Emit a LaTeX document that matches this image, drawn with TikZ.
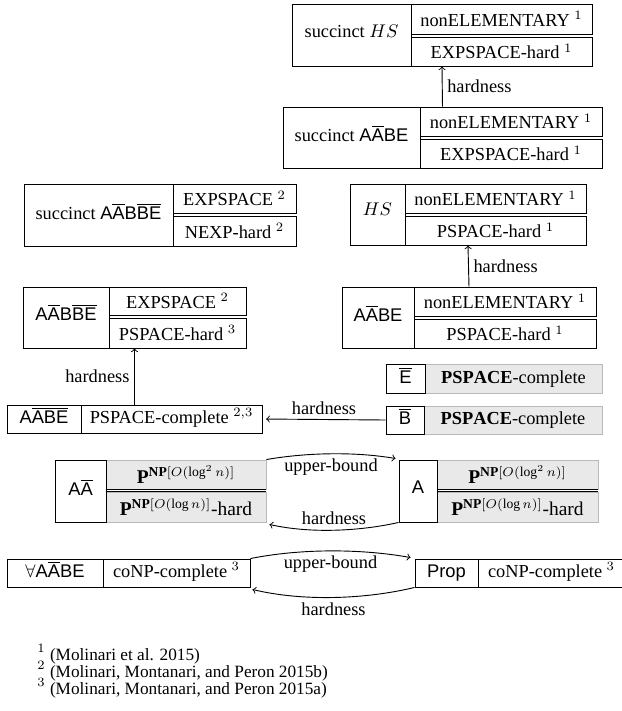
\documentclass[tikz,border=0pt]{standalone}
\usepackage{fontspec}
\setmainfont{Liberation Serif}
\setsansfont{Liberation Sans}
\usetikzlibrary{calc}
\newcommand\ol[1]{\ensuremath{\overline{\mbox{#1}}}}
\newcommand\cellbox[7]{\node[#6, minimum width={(#4-(#2))*0.545pt}, minimum height={(#5-(#3))*0.545pt}] (#1) at ({(#2+#4)/2},{(#3+#5)/2}) {#7};}
\begin{document}
\begin{tikzpicture}[x=0.545pt, y=-0.545pt, line width=0.5pt,
  cell/.style={draw, inner sep=0pt, font=\fontsize{10}{12}\selectfont},
  onerow/.style={cell, text height=7pt, text depth=2pt},
  gcell/.style={cell, draw=gray!55, fill=gray!17},
  grayrow/.style={gcell, text height=7pt, text depth=2pt},
  mcell/.style={gcell, font=\fontsize{10.6}{12}\selectfont},
  lab/.style={inner sep=2.5pt, font=\fontsize{10}{12}\selectfont},
  nmtext/.style={inner sep=0pt, font=\fontsize{10}{12}\selectfont},
  foot/.style={anchor=base west, inner sep=0pt, font=\fontsize{9.4}{11}\selectfont}]
\useasboundingbox (0,0) rectangle (622,711);

% succinct HS
\cellbox{s1n}{292}{4}{411}{66}{cell}{}
\cellbox{s1t}{411}{4}{592}{34}{cell}{nonELEMENTARY $^1$}
\cellbox{s1b}{411}{37}{592}{66}{cell}{EXPSPACE-hard $^1$}
\node[nmtext] (s1l) at ($(s1n.center)+(0,-4)$) {succinct $HS$};

% succinct AAbarBE
\cellbox{s2n}{283}{107}{420}{168}{cell}{}
\cellbox{s2t}{420}{107}{602}{136}{cell}{nonELEMENTARY $^1$}
\cellbox{s2b}{420}{139}{602}{168}{cell}{EXPSPACE-hard $^1$}
\node[nmtext] (s2l) at ($(s2n.center)+(0,-4)$) {succinct \textsf{A\ol{A}BE}};

% succinct AAbarBBbarEbar
\cellbox{s3n}{24}{184}{173}{246}{cell}{}
\cellbox{s3t}{173}{184}{296}{213}{cell}{EXPSPACE $^2$}
\cellbox{s3b}{173}{216}{296}{246}{cell}{NEXP-hard $^2$}
\node[nmtext] (s3l) at ($(s3n.center)+(0,-4)$) {succinct \textsf{A\ol{A}B\ol{B}\ol{E}}};

% HS
\cellbox{hsn}{350}{184}{405}{245}{cell}{}
\cellbox{hst}{405}{184}{586}{213}{cell}{nonELEMENTARY $^1$}
\cellbox{hsb}{405}{216}{586}{245}{cell}{PSPACE-hard $^1$}
\node[nmtext] (hsl) at ($(hsn.center)+(0,-5)$) {$HS$};

% AAbarBE
\cellbox{abn}{342}{287}{414}{348}{cell}{}
\cellbox{abt}{414}{287}{596}{316}{cell}{nonELEMENTARY $^1$}
\cellbox{abb}{414}{319}{596}{348}{cell}{PSPACE-hard $^1$}
\node[nmtext] (abl) at ($(abn.center)+(0,-4)$) {\textsf{A\ol{A}BE}};

% AAbarBBbarEbar
\cellbox{bbn}{23}{287}{109}{348}{cell}{}
\cellbox{bbt}{109}{287}{246}{315}{cell}{EXPSPACE $^2$}
\cellbox{bbb}{109}{318}{246}{348}{cell}{PSPACE-hard $^3$}
\node[nmtext] (bbl) at ($(bbn.center)+(0,-5)$) {\textsf{A\ol{A}B\ol{B}\ol{E}}};

% AAbarBbarEbar PSPACE-complete
\cellbox{pcn}{7}{405}{81}{433}{onerow}{\textsf{A\ol{A}\ol{B}\ol{E}}}
\cellbox{pcr}{81}{405}{262}{433}{onerow}{PSPACE-complete $^{2,3}$}

% Ebar, Bbar
\cellbox{er}{425}{364}{602}{393}{grayrow}{$\mathbf{PSPACE}$-complete}
\cellbox{en}{386}{364}{425}{393}{onerow}{\textsf{\ol{E}}}
\cellbox{br}{424}{406}{602}{434}{grayrow}{$\mathbf{PSPACE}$-complete}
\cellbox{bn}{386}{406}{424}{434}{onerow}{\textsf{\ol{B}}}

% AAbar
\cellbox{aat}{106}{460}{266}{489}{mcell}{$\mathbf{P}^{\mathbf{NP}[O(\log^2 n)]}$}
\cellbox{aab}{106}{492}{266}{522}{mcell}{$\mathbf{P}^{\mathbf{NP}[O(\log n)]}$-hard}
\cellbox{aan}{55}{460}{106}{522}{cell}{}
\node[nmtext] (aal) at ($(aan.center)+(0,-4)$) {\textsf{A\ol{A}}};
\draw (aat.south west) -- (aat.south east);
\draw (aab.north west) -- (aab.north east);

% A
\cellbox{at}{437}{460}{598}{489}{mcell}{$\mathbf{P}^{\mathbf{NP}[O(\log^2 n)]}$}
\cellbox{ab}{437}{492}{598}{522}{mcell}{$\mathbf{P}^{\mathbf{NP}[O(\log n)]}$-hard}
\cellbox{an}{399}{460}{437}{522}{cell}{}
\node[nmtext] (al) at ($(an.center)+(0,-4)$) {\textsf{A}};
\draw (at.south west) -- (at.south east);
\draw (ab.north west) -- (ab.north east);

% forall / Prop
\cellbox{fn}{7}{559}{103}{587}{onerow}{$\forall$\textsf{A\ol{A}BE}}
\cellbox{fr}{103}{559}{250}{587}{onerow}{coNP-complete $^3$}
\cellbox{pn}{415}{559}{478}{587}{onerow}{\textsf{Prop}}
\cellbox{pr}{478}{559}{625}{587}{onerow}{coNP-complete $^3$}

% connectors
\draw[->] ($(s2n.north west)!0.5!(s2t.north east)$) -- node[lab, right] {hardness} ($(s1n.south west)!0.5!(s1b.south east)$);
\draw[->] ($(abn.north west)!0.5!(abt.north east)$) -- node[lab, right] {hardness} ($(hsn.south west)!0.5!(hsb.south east)$);
\draw[->] ($(pcn.north west)!0.5!(pcr.north east)$) -- node[lab, left] {hardness} ($(bbn.south west)!0.5!(bbb.south east)$);
\draw[->, shorten >=2pt] (bn.west) -- node[lab, above] {hardness} (pcr.east);

\coordinate (ua2) at ($(an.north west)+(-3,-1)$);
\draw[->] (aat.north east) .. controls +(40,-7) and +(-40,-7) .. (ua2) node[lab, pos=0.5, below] {upper-bound};
\coordinate (ha2) at ($(aab.south east)+(3,2)$);
\draw[->] (an.south west) .. controls +(-40,9) and +(40,9) .. (ha2) node[lab, pos=0.5, above] {hardness};

\coordinate (uf2) at ($(pn.north west)+(-4,-1)$);
\draw[->] (fr.north east) .. controls +(50,-10) and +(-50,-9) .. (uf2) node[lab, pos=0.5, below] {upper-bound};
\coordinate (hf2) at ($(fr.south east)+(2,2)$);
\draw[->] (pn.south west) .. controls +(-50,12) and +(50,12) .. (hf2) node[lab, pos=0.5, below] {hardness};

% footnotes
\node[foot] (f1) at (37,660) {$^1$ (Molinari et al. 2015)};
\node[foot] (f2) at (37,677) {$^2$ (Molinari, Montanari, and Peron 2015b)};
\node[foot] (f3) at (37,694) {$^3$ (Molinari, Montanari, and Peron 2015a)};
\end{tikzpicture}
\end{document}
